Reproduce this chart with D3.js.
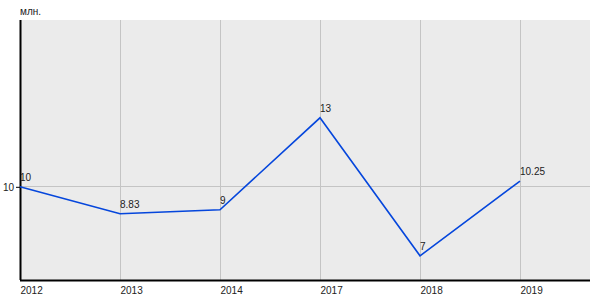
<!DOCTYPE html>
<html>
<head>
<meta charset="utf-8">
<script src="https://cdn.jsdelivr.net/npm/d3@7"></script>
<style>
  body { margin: 0; background: #fff; }
  svg { font-family: "Liberation Sans", Arial, sans-serif; }
</style>
</head>
<body>
<div id="chart"></div>
<script>
// data
const years = ["2012", "2013", "2014", "2017", "2018", "2019"];
const values = [10, 8.83, 9, 13, 7, 10.25];
const valueLabels = ["10", "8.83", "9", "13", "7", "10.25"];
const yTicks = [10];
const unitLabel = "млн.";

// set the dimensions and margins of the graph
var margin = {top: 20, right: 10, bottom: 20, left: 20},
    width = 600 - margin.left - margin.right,
    height = 300 - margin.top - margin.bottom;

const svg = d3.select("#chart")
.append("svg")
.attr("width", 600)
.attr("height", 300)
.append("g")
.attr("transform", `translate(${margin.left}, ${margin.top})`);

// background
svg.append("rect")
.attr("width", width)
.attr("height", height)
.style("fill", "#ebebeb");

// X scale: one slot per year, 100px each
const x = d3.scalePoint()
.domain(years)
.range([0, 500]);

// Y scale
const y = d3.scaleLinear()
.domain([5.95, 17.25])
.range([height, 0]);

// vertical gridlines
svg.append("g")
.selectAll("line")
.data(years.slice(1))
.join("line")
.attr("x1", d => x(d))
.attr("x2", d => x(d))
.attr("y1", 0)
.attr("y2", height)
.style("stroke", "#c4c4c4")
.style("stroke-width", 1)
.attr("shape-rendering", "crispEdges");

// horizontal gridlines
svg.append("g")
.selectAll("line")
.data(yTicks)
.join("line")
.attr("x1", 0)
.attr("x2", width)
.attr("y1", d => y(d))
.attr("y2", d => y(d))
.style("stroke", "#c4c4c4")
.style("stroke-width", 1)
.attr("shape-rendering", "crispEdges");

// X axis
const xAxis = svg.append("g")
.attr("transform", `translate(0, ${height})`)
.call(d3.axisBottom(x).tickSize(0).tickPadding(7));
xAxis.select(".domain").remove();
xAxis.selectAll("text")
.attr("text-anchor", "start")
.style("font-size", "10px")
.style("fill", "#222");

svg.append("line")
.attr("x1", 0).attr("x2", width)
.attr("y1", height + 0.5).attr("y2", height + 0.5)
.style("stroke", "#000").style("stroke-width", 2);

// Y axis
const yAxis = svg.append("g")
.call(d3.axisLeft(y).tickValues(yTicks).tickSize(4).tickPadding(2));
yAxis.select(".domain").remove();
yAxis.selectAll("line").style("stroke", "#000");
yAxis.selectAll("text")
.style("font-size", "10px")
.style("fill", "#222");

svg.append("line")
.attr("x1", 0.5).attr("x2", 0.5)
.attr("y1", 0).attr("y2", height)
.style("stroke", "#000").style("stroke-width", 2);

// unit label
svg.append("text")
.attr("x", 0)
.attr("y", -5)
.style("font-size", "10px")
.style("fill", "#222")
.text(unitLabel);

// line
svg.append("path")
.datum(values)
.attr("d", d3.line()
  .x((d, i) => x(years[i]))
  .y(d => y(d)))
.style("fill", "none")
.style("stroke", "#0546dc")
.style("stroke-width", 1.6);

// value labels
svg.append("g")
.selectAll("text")
.data(values)
.join("text")
.attr("x", (d, i) => x(years[i]))
.attr("y", d => y(d) - 6)
.style("font-size", "10px")
.style("fill", "#222")
.text((d, i) => valueLabels[i]);
</script>
</body>
</html>
